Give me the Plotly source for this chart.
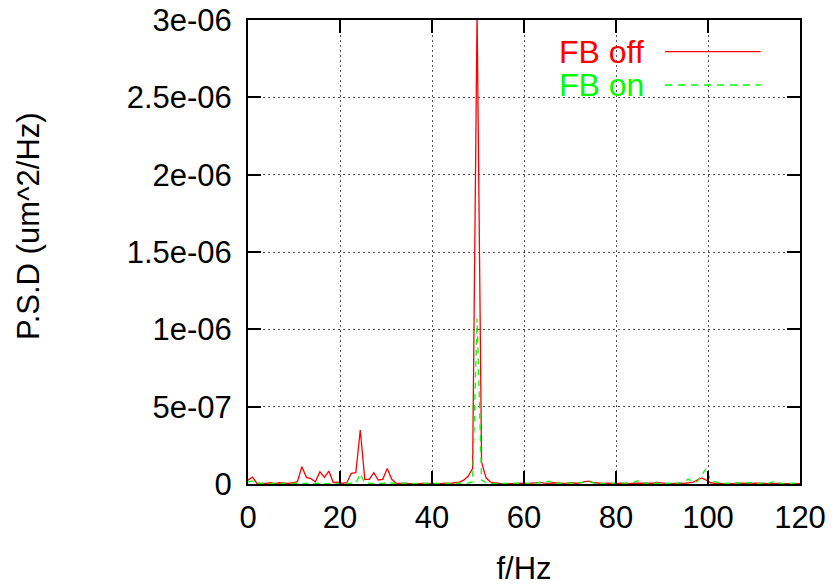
import plotly.graph_objects as go

# Frequency grid (Hz)
freq = [
    0.00, 0.98, 1.95, 2.93, 3.91, 4.88, 5.86, 6.84, 7.81, 8.79,
    9.77, 10.74, 11.72, 12.70, 13.67, 14.65, 15.63, 16.60, 17.58, 18.55,
    19.53, 20.51, 21.48, 22.46, 23.44, 24.41, 25.39, 26.37, 27.34, 28.32,
    29.30, 30.27, 31.25, 32.23, 33.20, 34.18, 35.16, 36.13, 37.11, 38.09,
    39.06, 40.04, 41.02, 41.99, 42.97, 43.95, 44.92, 45.90, 46.88, 47.85,
    48.83, 49.80, 50.78, 51.76, 52.73, 53.71, 54.69, 55.66, 56.64, 57.62,
    58.59, 59.57, 60.55, 61.52, 62.50, 63.48, 64.45, 65.43, 66.41, 67.38,
    68.36, 69.34, 70.31, 71.29, 72.27, 73.24, 74.22, 75.20, 76.17, 77.15,
    78.13, 79.10, 80.08, 81.05, 82.03, 83.01, 83.98, 84.96, 85.94, 86.91,
    87.89, 88.87, 89.84, 90.82, 91.80, 92.77, 93.75, 94.73, 95.70, 96.68,
    97.66, 98.63, 99.61, 100.59, 101.56, 102.54, 103.52, 104.49, 105.47, 106.45,
    107.42, 108.40, 109.38, 110.35, 111.33, 112.30, 113.28, 114.26, 115.23, 116.21,
    117.19, 118.16, 119.14, 120.12,
]

# PSD values in units of 1e-8 um^2/Hz
psd_off_e8 = [
    2.5, 4.5, 0.4, 0.3, 0.4, 0.8, 0.3, 0.8, 0.4, 0.4,
    0.8, 1.5, 11.2, 4.3, 3.5, 1.5, 8.0, 4.3, 8.4, 1.0,
    1.2, 0.5, 0.8, 6.9, 7.3, 34.9, 3.0, 3.0, 7.3, 2.6,
    3.0, 10.1, 3.0, 0.5, 0.4, 0.6, 0.3, 0.5, 0.3, 0.4,
    0.3, 0.5, 0.4, 0.3, 0.5, 0.4, 0.8, 1.2, 2.5, 5.0,
    10.0, 305.0, 14.0, 4.0, 1.2, 0.6, 0.4, 0.3, 0.5, 0.3,
    0.4, 0.6, 0.3, 0.5, 0.4, 1.0, 0.6, 0.4, 0.8, 0.5,
    0.4, 0.6, 0.9, 0.5, 0.7, 1.5, 1.8, 0.8, 0.5, 0.4,
    0.6, 0.4, 0.3, 0.6, 0.4, 0.3, 0.5, 0.4, 0.6, 0.3,
    0.5, 1.0, 0.6, 0.4, 0.3, 0.6, 0.5, 0.4, 0.8, 1.0,
    2.6, 3.9, 2.5, 0.8, 0.4, 0.3, 0.5, 0.4, 0.3, 0.5,
    0.4, 0.3, 0.4, 0.6, 0.3, 0.4, 0.3, 0.5, 0.4, 0.3,
    0.4, 0.3, 0.4, 0.3,
]

psd_on_e8 = [
    1.3, 2.0, 0.5, 0.3, 0.4, 0.3, 0.5, 0.3, 0.4, 0.3,
    0.4, 0.5, 0.6, 0.4, 0.3, 0.5, 0.4, 0.3, 0.5, 0.3,
    0.4, 0.3, 0.4, 0.6, 0.5, 6.5, 0.8, 0.4, 0.3, 0.4,
    0.4, 0.9, 0.4, 0.3, 0.5, 0.3, 0.4, 0.3, 0.5, 0.3,
    0.4, 0.3, 0.4, 0.3, 0.4, 0.3, 0.4, 0.5, 0.5, 0.6,
    1.5, 107.0, 2.5, 0.8, 0.4, 0.3, 0.5, 0.3, 0.4, 0.6,
    0.3, 0.4, 0.5, 0.3, 0.6, 0.8, 1.2, 1.8, 0.6, 0.4,
    0.5, 0.3, 0.6, 0.4, 0.8, 1.0, 1.5, 0.6, 0.4, 0.5,
    0.3, 0.6, 0.4, 0.5, 0.8, 0.6, 1.2, 2.4, 0.8, 0.4,
    0.5, 0.6, 0.4, 0.8, 0.5, 0.3, 0.6, 1.0, 3.2, 1.5,
    1.5, 6.0, 10.1, 2.1, 1.2, 0.6, 0.4, 0.5, 0.3, 0.6,
    0.4, 0.5, 0.8, 0.4, 0.5, 0.8, 0.6, 1.5, 0.6, 0.4,
    0.5, 0.3, 0.4, 0.5,
]

psd_off = [v * 1e-8 for v in psd_off_e8]
psd_on = [v * 1e-8 for v in psd_on_e8]

x_ticks = [0, 20, 40, 60, 80, 100, 120]
y_ticks = [0, 5e-7, 1e-6, 1.5e-6, 2e-6, 2.5e-6, 3e-6]
y_tick_text = ["0", "5e-07", "1e-06", "1.5e-06", "2e-06", "2.5e-06", "3e-06"]

series_names = ["FB off", "FB on"]
RED = "#ff0000"
GREEN = "#00ff00"
FONT = "Liberation Sans, Arial, Helvetica, sans-serif"

fig = go.Figure()
fig.add_trace(go.Scatter(x=freq, y=psd_off, mode="lines", name=series_names[0],
                         line=dict(color=RED, width=1.3), showlegend=False))
fig.add_trace(go.Scatter(x=freq, y=psd_on, mode="lines", name=series_names[1],
                         line=dict(color=GREEN, width=1.3, dash="6px,5px"), showlegend=False))

axis_common = dict(
    showline=True, linecolor="black", linewidth=2, mirror="ticks",
    ticks="inside", ticklen=13, tickwidth=2, tickcolor="black",
    showgrid=True, gridcolor="#555555", gridwidth=1, griddash="2px,3px",
    zeroline=False, automargin=False,
    tickfont=dict(family=FONT, size=31, color="black"),
)

fig.update_xaxes(range=[0, 120], tickvals=x_ticks, ticktext=[str(t) for t in x_ticks],
                 ticklabelstandoff=5,
                 title=dict(text="f/Hz", font=dict(family=FONT, size=31, color="black"), standoff=30),
                 **axis_common)
fig.update_yaxes(range=[0, 3e-6], tickvals=y_ticks, ticktext=y_tick_text,
                 ticklabelstandoff=8, **axis_common)

# Legend, gnuplot style (text left, sample right)
leg_y = [0.9317, 0.8599]
colors = [RED, GREEN]
dashes = ["solid", "7px,6px"]
for name, yy, c, d in zip(series_names, leg_y, colors, dashes):
    fig.add_annotation(text=name, xref="paper", yref="paper", x=0.7210, y=yy,
                       xanchor="right", yanchor="middle", showarrow=False,
                       font=dict(family=FONT, size=32, color=c))
    fig.add_shape(type="line", xref="paper", yref="paper", x0=0.7554, x1=0.9288,
                  y0=yy, y1=yy, line=dict(color=c, width=1.3, dash=d))

# Y-axis title
fig.add_annotation(text="P.S.D (um^2/Hz)", xref="paper", yref="paper",
                   x=-0.3986, y=0.556, xanchor="center", yanchor="middle",
                   textangle=-90, showarrow=False,
                   font=dict(family=FONT, size=31, color="black"))

fig.update_layout(
    width=835, height=586,
    margin=dict(l=248, r=35, t=20, b=102, pad=0),
    paper_bgcolor="white", plot_bgcolor="white",
    showlegend=False,
)

fig.write_html("out.html")
